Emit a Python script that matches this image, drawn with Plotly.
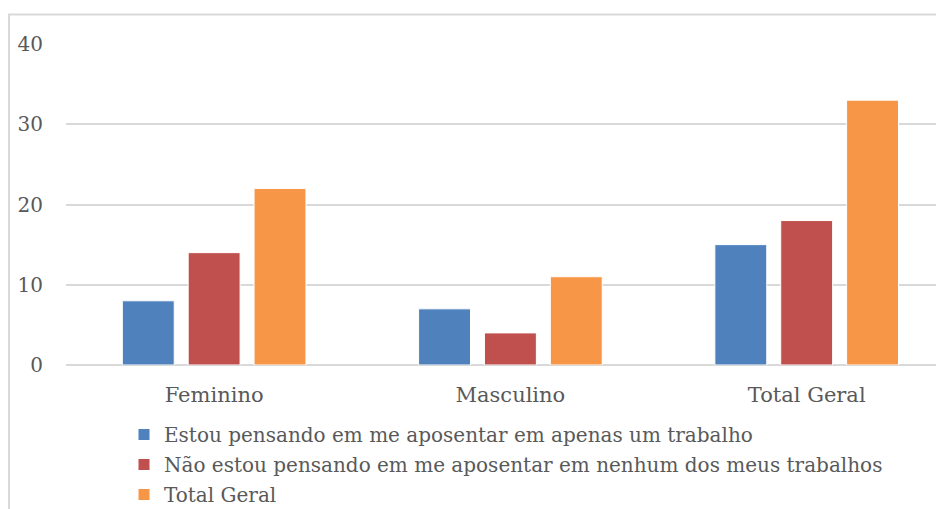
import plotly.graph_objects as go

categories = ["Feminino", "Masculino", "Total Geral"]
series_names = [
    "Estou pensando em me aposentar em apenas um trabalho",
    "Não estou pensando em me aposentar em nenhum dos meus trabalhos",
    "Total Geral",
]
series_values = [
    [8, 7, 15],
    [14, 4, 18],
    [22, 11, 33],
]
colors = ["#4F81BD", "#C0504D", "#F79646"]
y_ticks = [0, 10, 20, 30, 40]

# page has an 8px body margin; figure coordinates are page coordinates minus 8
W, H = 936, 530
L, R, T, B = 58, 4, 36, 173
pw = W - L - R
ph = H - T - B

fig = go.Figure()
for i, (name, vals, c) in enumerate(zip(series_names, series_values, colors)):
    fig.add_trace(go.Bar(
        x=categories, y=vals, name=name, legendgroup=f"g{i}",
        marker=dict(color=c, line=dict(color="white", width=1)),
    ))

FONT = "DejaVu Serif"
fig.update_layout(
    width=W, height=H,
    margin=dict(l=L, r=R, t=T, b=B),
    paper_bgcolor="white", plot_bgcolor="white",
    barmode="group", bargap=0.333, bargroupgap=0.212,
    font=dict(family=FONT, size=20, color="#595959"),
    xaxis=dict(range=[-0.5, 2.45], showgrid=False, showline=False,
               ticks="", tickfont=dict(size=21), ticklabelstandoff=15),
    yaxis=dict(range=[0, 40], tickvals=y_ticks, showgrid=True,
               gridcolor="#D9D9D9", gridwidth=2, zeroline=True,
               zerolinecolor="#D9D9D9", zerolinewidth=2, showline=False,
               ticks="", tickfont=dict(size=20), ticklabelstandoff=22),
    legend=dict(orientation="v", x=(116 - L) / pw, y=(T + ph - 407) / ph,
                xanchor="left", yanchor="top", font=dict(size=20),
                bgcolor="rgba(0,0,0,0)", tracegroupgap=1, itemwidth=30),
    showlegend=True,
)
fig.add_shape(type="rect", xref="paper", yref="paper",
              x0=(1 - L) / pw, x1=(960 - L) / pw,
              y0=-(560 - T - ph) / ph, y1=(T + ph - 6.5) / ph,
              line=dict(color="#D9D9D9", width=2), fillcolor="rgba(0,0,0,0)", layer="below")
fig.write_html("out.html")
